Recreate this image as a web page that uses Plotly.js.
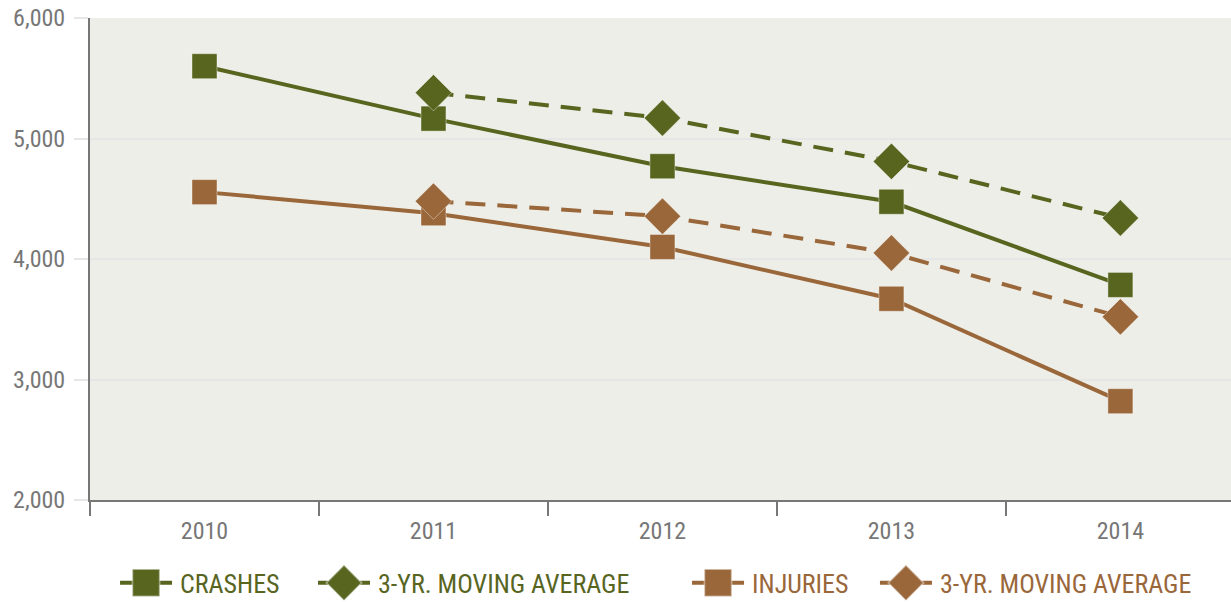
<!DOCTYPE html>
<html>
<head>
<meta charset="utf-8">
<script src="https://cdn.plot.ly/plotly-3.0.1.min.js"></script>
<style>html,body{margin:0;padding:0;background:#fff;}#chart{width:1231px;height:602px;}</style>
</head>
<body>
<div id="chart"></div>
<script>
var years = ["2010", "2011", "2012", "2013", "2014"];
var crashes = [5600, 5165, 4770, 4475, 3785];
var crashesAvgYears = ["2011", "2012", "2013", "2014"];
var crashesAvg = [5380, 5170, 4810, 4340];
var injuries = [4555, 4380, 4100, 3670, 2820];
var injuriesAvgYears = ["2011", "2012", "2013", "2014"];
var injuriesAvg = [4480, 4355, 4050, 3520];
var yTicks = [2000, 3000, 4000, 5000, 6000];

var GREEN = "#58651F", BROWN = "#9A673A";
var FONT = "'Liberation Sans Narrow', 'Roboto Condensed', 'Arial Narrow', Roboto, sans-serif";

function tr(name, x, y, color, dash, symbol, size, legend) {
  return {
    type: "scatter", mode: "lines+markers", name: name, x: x, y: y, legend: legend,
    line: {color: color, width: 4, dash: dash},
    marker: {symbol: symbol, size: size, color: color, line: {color: "rgba(255,255,255,0.4)", width: 1}},
    cliponaxis: false
  };
}

var data = [
  tr("CRASHES", years, crashes, GREEN, "solid", "square", 25, "legend"),
  tr("3-YR. MOVING AVERAGE", crashesAvgYears, crashesAvg, GREEN, "20px,12px", "diamond", 28, "legend2"),
  tr("INJURIES", years, injuries, BROWN, "solid", "square", 25, "legend3"),
  tr("3-YR. MOVING AVERAGE", injuriesAvgYears, injuriesAvg, BROWN, "20px,12px", "diamond", 28, "legend4")
];

function leg(x, color) {
  return {
    orientation: "h", x: x, xanchor: "left", y: -0.172, yanchor: "middle",
    itemwidth: 44,
    font: {family: FONT, size: 26, color: color}, tracegroupgap: 0, bgcolor: "rgba(0,0,0,0)"
  };
}

var layout = {
  width: 1231, height: 602,
  margin: {l: 90, r: 0, t: 18, b: 102, autoexpand: false},
  paper_bgcolor: "#ffffff",
  plot_bgcolor: "#EEEEE8",
  font: {family: FONT, size: 24, color: "#777777"},
  showlegend: true,
  legend: leg(0.0316, GREEN),
  legend2: leg(0.2051, GREEN),
  legend3: leg(0.5329, BROWN),
  legend4: leg(0.6976, BROWN),
  xaxis: {
    type: "category", categoryorder: "array", categoryarray: years,
    range: [-0.5, 4.483],
    showline: true, linecolor: "#777777", linewidth: 2,
    ticks: "outside", tickson: "boundaries", ticklen: 14, tickwidth: 2, tickcolor: "#777777",
    showgrid: false, zeroline: false, ticklabelstandoff: 8,
    tickfont: {family: FONT, size: 24, color: "#777777"}
  },
  yaxis: {
    range: [2000, 6000], tickvals: yTicks, tickformat: ",d",
    showline: true, linecolor: "#777777", linewidth: 2,
    ticks: "outside", ticklen: 14, tickwidth: 2, tickcolor: "#E6E6E6",
    showgrid: true, gridcolor: "#E6E6E6", gridwidth: 2, zeroline: false, ticklabelstandoff: 4,
    tickfont: {family: FONT, size: 24, color: "#777777"}
  }
};

function setAttr(el, name, val) {
  if (el.getAttribute(name) !== val) el.setAttribute(name, val);
}

function tweakLegends(gd) {
  ["legend", "legend2", "legend3", "legend4"].forEach(function(id){
    var lg = gd.querySelector(".infolayer > g." + id);
    if (!lg) return;
    lg.querySelectorAll("[clip-path]").forEach(function(el){ el.removeAttribute("clip-path"); });
    var isDiamond = (id === "legend2" || id === "legend4");
    lg.querySelectorAll("g.traces").forEach(function(t){
      var txt = t.querySelector(".legendtext");
      if (txt) {
        setAttr(txt, "x", "54");
        txt.querySelectorAll("tspan[x]").forEach(function(s){ setAttr(s, "x", "54"); });
      }
      t.querySelectorAll(".legendlines path").forEach(function(p){
        setAttr(p, "d", "M-6,0h52");
        var da = isDiamond ? "10px, 32px" : "none";
        if (p.style.strokeDasharray !== da) p.style.strokeDasharray = da;
      });
      t.querySelectorAll(".legendpoints path").forEach(function(p){
        setAttr(p, "transform", "translate(20,0) scale(1.7)");
      });
    });
  });
}

Plotly.newPlot("chart", data, layout, {displayModeBar: false, staticPlot: true}).then(function(gd){
  tweakLegends(gd);
  var obs = new MutationObserver(function(){ tweakLegends(gd); });
  obs.observe(gd, {childList: true, subtree: true});
  gd.on("plotly_afterplot", function(){ tweakLegends(gd); });
  [0, 50, 150, 400, 1000].forEach(function(ms){ setTimeout(function(){ tweakLegends(gd); }, ms); });
});
</script>
</body>
</html>
